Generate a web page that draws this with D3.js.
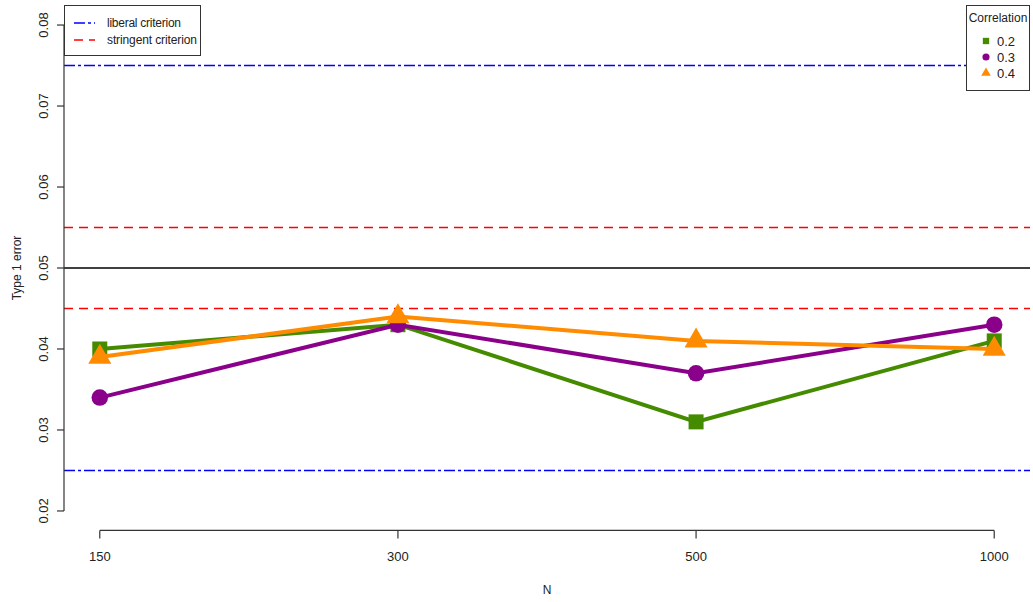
<!DOCTYPE html>
<html>
<head>
<meta charset="utf-8">
<script src="https://cdn.jsdelivr.net/npm/d3@7"></script>
<style>
  body { margin: 0; background: #fff; }
  svg { font-family: "Liberation Sans", Arial, sans-serif; }
</style>
</head>
<body>
<div id="chart"></div>
<script>
// chart values
const sampleSizes = ["150", "300", "500", "1000"];
const corr02 = [0.040, 0.043, 0.031, 0.041];
const corr03 = [0.034, 0.043, 0.037, 0.043];
const corr04 = [0.039, 0.044, 0.041, 0.040];
const yTicks = [0.02, 0.03, 0.04, 0.05, 0.06, 0.07, 0.08];
const liberalBounds = [0.025, 0.075];
const stringentBounds = [0.045, 0.055];
const nominalLevel = 0.05;

const width = 1033, height = 602;
const plot = {left: 64, right: 1030, top: 5.6, bottom: 530.4};

const svg = d3.select("#chart").append("svg")
    .attr("width", width)
    .attr("height", height);

// R style: 4% padding on both axes
let x = d3.scaleLinear().domain([1 - 0.12, 4 + 0.12]).range([plot.left, plot.right]);
let y = d3.scaleLinear().domain([0.02 - 0.0024, 0.08 + 0.0024]).range([plot.bottom, plot.top]);

let refLines = svg.append("g");
refLines.selectAll("line.liberal")
    .data(liberalBounds).enter().append("line")
    .attr("x1", plot.left).attr("x2", plot.right)
    .attr("y1", d => y(d)).attr("y2", d => y(d))
    .attr("stroke", "#0000ff").attr("stroke-width", 1.6)
    .attr("stroke-dasharray", "11,3,3,3");
refLines.selectAll("line.stringent")
    .data(stringentBounds).enter().append("line")
    .attr("x1", plot.left).attr("x2", plot.right)
    .attr("y1", d => y(d)).attr("y2", d => y(d))
    .attr("stroke", "#ff0000").attr("stroke-width", 1.6)
    .attr("stroke-dasharray", "9,6");
refLines.append("line")
    .attr("x1", plot.left).attr("x2", plot.right)
    .attr("y1", y(nominalLevel)).attr("y2", y(nominalLevel))
    .attr("stroke", "#000").attr("stroke-width", 1.6);

// axes
let yAxis = svg.append("g").attr("transform", `translate(${plot.left},0)`);
yAxis.append("line")
    .attr("x1", 0).attr("x2", 0)
    .attr("y1", y(0.08)).attr("y2", y(0.02))
    .attr("stroke", "#333").attr("stroke-width", 1.2);
yAxis.selectAll("line.tick").data(yTicks).enter().append("line")
    .attr("x1", -7).attr("x2", 0)
    .attr("y1", d => y(d)).attr("y2", d => y(d))
    .attr("stroke", "#333").attr("stroke-width", 1.2);
yAxis.selectAll("text").data(yTicks).enter().append("text")
    .attr("transform", d => `translate(-16,${y(d)}) rotate(-90)`)
    .attr("text-anchor", "middle")
    .attr("font-size", 13).attr("fill", "#222")
    .text(d => d3.format(".2f")(d));

let xAxis = svg.append("g").attr("transform", `translate(0,${plot.bottom})`);
xAxis.append("line")
    .attr("x1", x(1)).attr("x2", x(4))
    .attr("stroke", "#333").attr("stroke-width", 1.2);
xAxis.selectAll("line.tick").data(sampleSizes).enter().append("line")
    .attr("x1", (d, i) => x(i + 1)).attr("x2", (d, i) => x(i + 1))
    .attr("y1", 0).attr("y2", 8)
    .attr("stroke", "#333").attr("stroke-width", 1.2);
xAxis.selectAll("text").data(sampleSizes).enter().append("text")
    .attr("x", (d, i) => x(i + 1)).attr("y", 31)
    .attr("text-anchor", "middle")
    .attr("font-size", 13).attr("fill", "#222")
    .text(d => d);

svg.append("text")
    .attr("x", (plot.left + plot.right) / 2).attr("y", 594)
    .attr("text-anchor", "middle").attr("font-size", 12).attr("fill", "#222")
    .text("N");
svg.append("text")
    .attr("transform", `translate(21,${y(0.05)}) rotate(-90)`)
    .attr("text-anchor", "middle").attr("font-size", 12).attr("fill", "#222")
    .text("Type 1 error");

// series
const series = [
    {name: "0.2", values: corr02, color: "#458b00", shape: d3.symbolSquare, size: 225},
    {name: "0.3", values: corr03, color: "#8b008b", shape: d3.symbolCircle, size: 215},
    {name: "0.4", values: corr04, color: "#ff8c00", shape: d3.symbolTriangle, size: 230}
];

let line = d3.line().x((d, i) => x(i + 1)).y(d => y(d));
for (let s of series) {
    let g = svg.append("g");
    g.append("path")
        .attr("d", line(s.values))
        .attr("fill", "none")
        .attr("stroke", s.color)
        .attr("stroke-width", 4);
    g.selectAll("path.pt").data(s.values).enter().append("path")
        .attr("transform", (d, i) => `translate(${x(i + 1)},${y(d)})`)
        .attr("d", d3.symbol().type(s.shape).size(s.size))
        .attr("fill", s.color);
}

// legend: criteria
let leg1 = svg.append("g");
leg1.append("rect")
    .attr("x", 64.5).attr("y", 5.5).attr("width", 136).attr("height", 50)
    .attr("fill", "#fff").attr("stroke", "#333");
const criteria = [
    {label: "liberal criterion", color: "#0000ff", dash: "11,3,3,3"},
    {label: "stringent criterion", color: "#ff0000", dash: "9,6"}
];
criteria.forEach((c, i) => {
    let yy = 23 + i * 17;
    leg1.append("line")
        .attr("x1", 74).attr("x2", 95).attr("y1", yy).attr("y2", yy)
        .attr("stroke", c.color).attr("stroke-width", 1.6)
        .attr("stroke-dasharray", c.dash);
    leg1.append("text")
        .attr("x", 107).attr("y", yy + 4)
        .attr("font-size", 12).attr("fill", "#222")
        .attr("textLength", i === 0 ? 74 : 90)
        .text(c.label);
});

// legend: correlation
let leg2 = svg.append("g");
leg2.append("rect")
    .attr("x", 966.5).attr("y", 5.5).attr("width", 63).attr("height", 85)
    .attr("fill", "#fff").attr("stroke", "#333");
leg2.append("text")
    .attr("x", 998).attr("y", 22)
    .attr("text-anchor", "middle").attr("font-size", 12).attr("fill", "#222")
    .text("Correlation");
series.forEach((s, i) => {
    let yy = 41 + i * 16;
    leg2.append("path")
        .attr("transform", `translate(986,${yy})`)
        .attr("d", d3.symbol().type(s.shape).size(40))
        .attr("fill", s.color);
    leg2.append("text")
        .attr("x", 997).attr("y", yy + 5)
        .attr("font-size", 13).attr("fill", "#222")
        .text(s.name);
});
</script>
</body>
</html>
